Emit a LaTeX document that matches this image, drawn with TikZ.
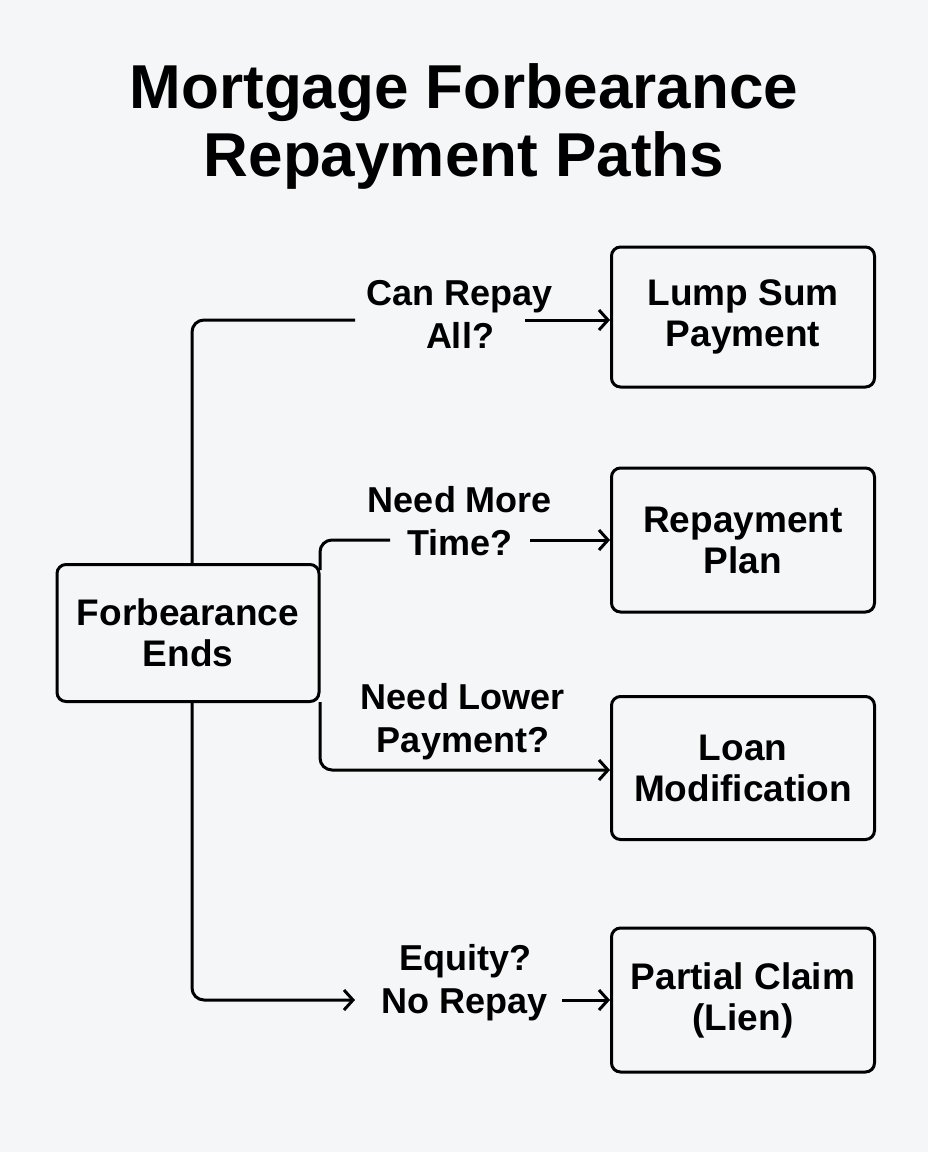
\documentclass[tikz,border=0pt]{standalone}
\usepackage{fontspec}
\setmainfont{Liberation Sans}
\usetikzlibrary{positioning,arrows.meta}
\definecolor{bgcol}{HTML}{F4F6F7}
\tikzset{
  step box/.style={draw, line width=3pt, rounded corners=9pt, minimum width=263pt,
    minimum height=140pt, align=center, font=\fontsize{37}{41}\selectfont\bfseries},
  path label/.style={align=center, font=\fontsize{36}{43}\selectfont\bfseries, inner sep=2pt},
  link/.style={line width=3pt, rounded corners=12pt},
  go/.style={line width=3pt, -{Straight Barb[length=9pt,width=20pt,line width=3pt]}}
}
\begin{document}
\begin{tikzpicture}[x=1pt,y=-1pt]
  \fill[bgcol] (0,0) rectangle (928,1152);
  \useasboundingbox (0,0) rectangle (928,1152);
  \node[font=\fontsize{62}{68}\selectfont\bfseries, align=center] (title) at (464,126)
    {Mortgage Forbearance\\Repayment Paths};

  \node[step box, minimum width=262pt, minimum height=137pt] (start) at (188,633) {Forbearance\\Ends};

  \node[step box] (lump) at (743,317) {Lump Sum\\Payment};
  \node[step box, minimum height=144pt] (plan) at (743,540) {Repayment\\Plan};
  \node[step box, minimum height=143pt] (mod) at (743,768) {Loan\\Modification};
  \node[step box, minimum height=144pt] (claim) at (743,1000) {Partial Claim\\(Lien)};

  \node[path label] (l1) at (460,314) {Can Repay\\All?};
  \node[path label] (l2) at (460,521) {Need More\\Time?};
  \node[path label] (l3) at (463,722) {Need Lower\\Payment?};
  \node[path label] (l4) at (465,983) {Equity?\\No Repay};

  % upper branches
  \draw[link] (start.north -| 192,0) |- (355,320);
  \draw[go] (525,320) -- (lump.west |- 0,320);
  \draw[link] (320,570) |- (390,540);
  \draw[go] (530,540) -- (plan.west |- 0,540);
  % lower branches
  \draw[link, go] (320,702) |- (mod.west |- 0,770);
  \draw[link, go] (start.south -| 192,0) |- (355,1000);
  \draw[go] (562,1000) -- (claim.west |- 0,1000);
\end{tikzpicture}
\end{document}
